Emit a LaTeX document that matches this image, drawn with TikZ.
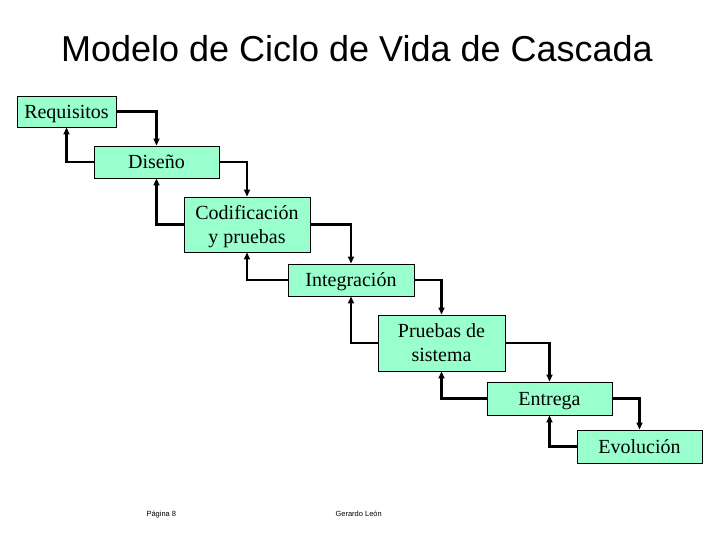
\documentclass[tikz,border=0pt]{standalone}
\usepackage{fontspec}
\setmainfont{Liberation Serif}
\newfontfamily\titlefont{Liberation Sans}
\usepackage{tikz}
\usetikzlibrary{arrows.meta,positioning}

\definecolor{stagefill}{RGB}{153,255,204}

\begin{document}
\begin{tikzpicture}[
    x=1pt, y=-1pt,
    stage/.style={rectangle, draw, line width=0.9pt, fill=stagefill, minimum width=125pt, align=center, inner sep=0pt, text depth=0pt, font=\fontsize{20}{24}\selectfont},
    flow/.style={-{Triangle[length=7pt,width=6pt]}, line width=2.2pt}
]
\useasboundingbox (0,0) rectangle (720,540);

% Title
\node[font=\titlefont\fontsize{36}{40}\selectfont, anchor=base] (title) at (357,62) {Modelo de Ciclo de Vida de Cascada};

% Stages
\node[stage, minimum width=99pt, minimum height=31pt] (req) at (66.5,111.5) {Requisitos};
\node[stage, minimum height=32pt] (dis) at (156.5,162) {Diseño};
\node[stage, minimum width=126pt, minimum height=55pt] (cod) at (247,224.5) {Codificación\\y pruebas};
\node[stage, minimum width=126pt, minimum height=32pt] (int) at (351,280) {Integración};
\node[stage, minimum width=127pt, minimum height=56pt] (pru) at (441.5,343) {Pruebas de\\sistema};
\node[stage, minimum height=33pt] (ent) at (549.5,398.5) {Entrega};
\node[stage, minimum height=33pt] (evo) at (639.5,446.5) {Evolución};

% Forward arrows
\draw[flow] (req.east) -| (dis.north);
\draw[flow] (dis.east) -| (cod.north);
\draw[flow] (cod.east) -| (int.north);
\draw[flow] (int.east) -| (pru.north);
\draw[flow] (pru.east) -| (ent.north);
\draw[flow] (ent.east) -| (evo.north);

% Feedback arrows
\draw[flow] (dis.west) -| (req.south);
\draw[flow] (cod.west) -| (dis.south);
\draw[flow] (int.west) -| (cod.south);
\draw[flow] (pru.west) -| (int.south);
\draw[flow] (ent.west) -| (pru.south);
\draw[flow] (evo.west) -| (ent.south);

% Footer
\node[font=\titlefont\fontsize{7.5}{9}\selectfont, anchor=base west] (page) at (143,516) {Página 8};
\node[font=\titlefont\fontsize{7.5}{9}\selectfont, anchor=base west] (author) at (332,516) {Gerardo León};

\end{tikzpicture}
\end{document}
